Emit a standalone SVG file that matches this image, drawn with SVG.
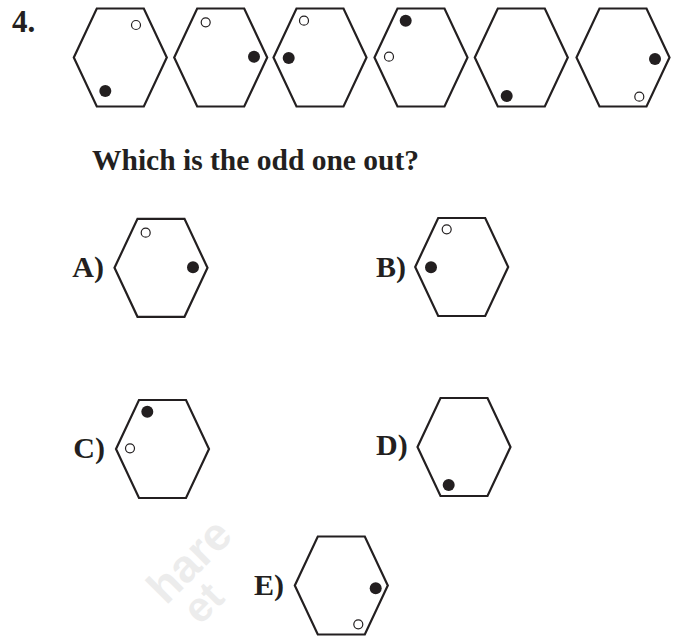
<svg xmlns="http://www.w3.org/2000/svg" xmlns:xlink="http://www.w3.org/1999/xlink" width="680" height="639" viewBox="0 0 680 639">
<style>
.hex{fill:none;stroke:#231f20;stroke-width:2.2;stroke-linejoin:miter}
.f{fill:#231f20}
.o{fill:#fff;stroke:#231f20;stroke-width:1.2}
.t{font-family:"Liberation Serif","Times New Roman",serif;font-weight:bold;fill:#231f20}
.wm{font-family:"Liberation Sans",Arial,sans-serif;font-weight:bold;fill:#000;opacity:0.07}
</style>
<defs>
<polygon id="hx" class="hex" points="-46.5,0 -23.5,-49 23.5,-49 46.5,0 23.5,49 -23.5,49"/>
</defs>
<rect width="680" height="639" fill="#fff"/>
<g id="watermark">
<text class="wm" font-size="46" transform="translate(166,606) rotate(-45)">hare</text>
<text class="wm" font-size="42" transform="translate(200,626) rotate(-45)">et</text>
</g>
<text class="t" x="12" y="32" font-size="31">4.</text>
<g id="seq1"><use xlink:href="#hx" x="120.3" y="57.5"/><circle class="o" cx="136" cy="25" r="4.5"/><circle class="f" cx="105.3" cy="91" r="6"/></g>
<g id="seq2"><use xlink:href="#hx" x="220.7" y="57.5"/><circle class="o" cx="205.7" cy="22.3" r="4.5"/><circle class="f" cx="254" cy="56.7" r="6"/></g>
<g id="seq3"><use xlink:href="#hx" x="320" y="57.5"/><circle class="o" cx="304" cy="20.7" r="4.5"/><circle class="f" cx="288.7" cy="58" r="6"/></g>
<g id="seq4"><use xlink:href="#hx" x="421" y="57.5"/><circle class="f" cx="405.7" cy="20.7" r="6"/><circle class="o" cx="389" cy="56.7" r="4.5"/></g>
<g id="seq5"><use xlink:href="#hx" x="521.3" y="57.5"/><circle class="f" cx="506.7" cy="96" r="6"/></g>
<g id="seq6"><use xlink:href="#hx" x="623" y="57.5"/><circle class="f" cx="655" cy="59" r="6"/><circle class="o" cx="639.3" cy="96.7" r="4.5"/></g>
<text class="t" x="92" y="170" font-size="29.5">Which is the odd one out?</text>
<g id="optA"><text class="t" x="104" y="276.5" font-size="30" text-anchor="end">A)</text><use xlink:href="#hx" x="161" y="267.8"/><circle class="o" cx="145.7" cy="232.7" r="4.5"/><circle class="f" cx="193" cy="267.3" r="6"/></g>
<g id="optB"><text class="t" x="376" y="277" font-size="30">B)</text><use xlink:href="#hx" x="461.7" y="267"/><circle class="o" cx="446.7" cy="229.3" r="4.5"/><circle class="f" cx="431" cy="267.3" r="6"/></g>
<g id="optC"><text class="t" x="105" y="458" font-size="30" text-anchor="end">C)</text><use xlink:href="#hx" x="162.5" y="449"/><circle class="f" cx="147.3" cy="411.7" r="6"/><circle class="o" cx="130" cy="448.3" r="4.5"/></g>
<g id="optD"><text class="t" x="376" y="455" font-size="30">D)</text><use xlink:href="#hx" x="464" y="447"/><circle class="f" cx="448.7" cy="485" r="6"/></g>
<g id="optE"><text class="t" x="254" y="595" font-size="30">E)</text><use xlink:href="#hx" x="341.3" y="585.5"/><circle class="f" cx="375.7" cy="588.3" r="6"/><circle class="o" cx="358.3" cy="624.3" r="4.5"/></g>
</svg>
